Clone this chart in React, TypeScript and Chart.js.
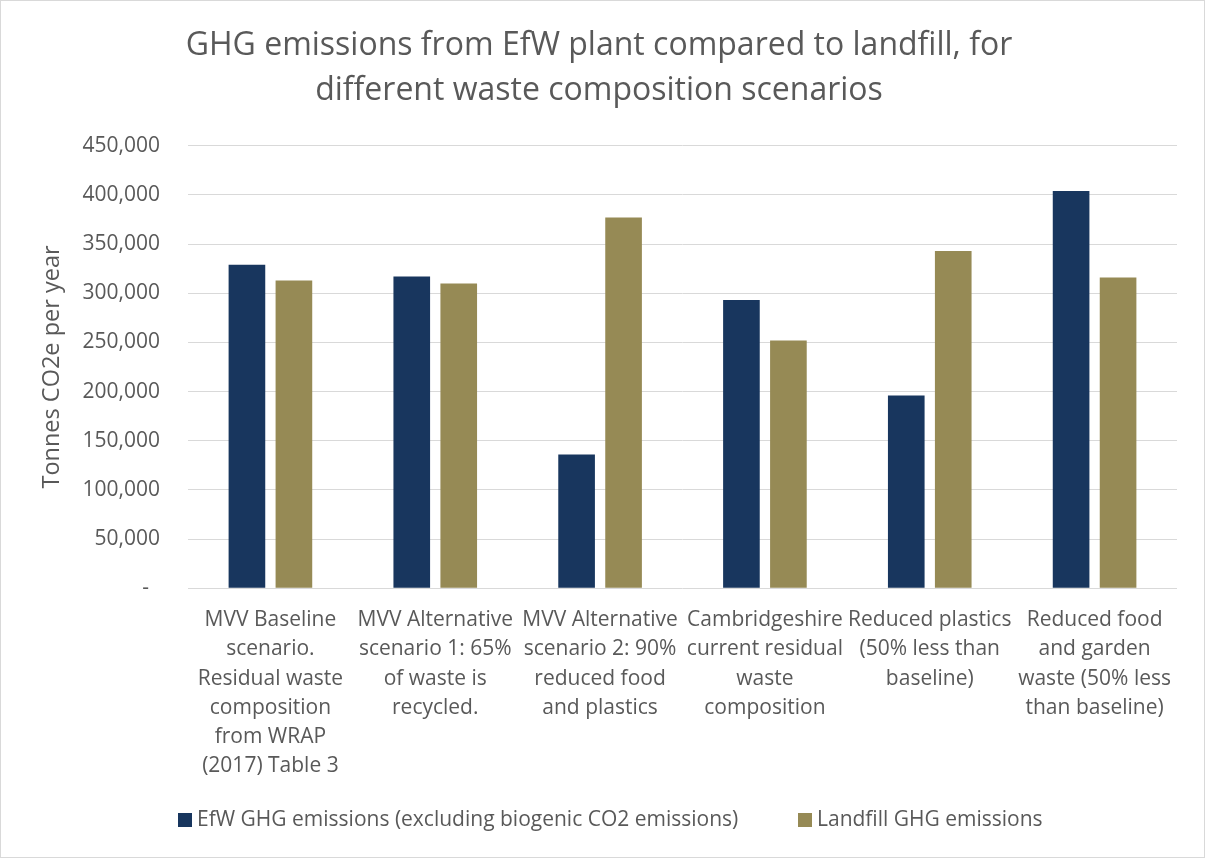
import React, { useEffect, useRef } from "react";
import { Chart, registerables } from "chart.js";

Chart.register(...registerables);

const categories: string[][] = [
  ["MVV Baseline", "scenario.", "Residual waste", "composition", "from WRAP", "(2017) Table 3"],
  ["MVV Alternative", "scenario 1: 65%", "of waste is", "recycled."],
  ["MVV Alternative", "scenario 2: 90%", "reduced food", "and plastics"],
  ["Cambridgeshire", "current residual", "waste", "composition"],
  ["Reduced plastics", "(50% less than", "baseline)"],
  ["Reduced food", "and garden", "waste (50% less", "than baseline)"],
];

const efwValues: number[] = [329000, 317000, 136000, 293000, 196000, 404000];
const landfillValues: number[] = [313000, 310000, 377000, 252000, 343000, 316000];

const seriesNames: string[] = [
  "EfW GHG emissions (excluding biogenic CO2 emissions)",
  "Landfill GHG emissions",
];

const titleLines: string[] = [
  "GHG emissions from EfW plant compared to landfill, for",
  "different waste composition scenarios",
];

const yAxisTitle = "Tonnes CO2e per year";

const NAVY = "#18365E";
const OLIVE = "#968A55";
const TEXT = "#595959";
const GRID = "#D9D9D9";

const legendPlugin = {
  id: "customLegend",
  afterDraw(chart: any) {
    const ctx = chart.ctx;
    const boxX = [177, 797];
    const yc = 819;
    const box = 14;
    ctx.save();
    ctx.font = "21px 'Open Sans'";
    ctx.textBaseline = "middle";
    ctx.textAlign = "left";
    chart.data.datasets.forEach((ds: any, i: number) => {
      ctx.fillStyle = ds.backgroundColor;
      ctx.fillRect(boxX[i], yc - box / 2, box, box);
      ctx.fillStyle = TEXT;
      ctx.fillText(ds.label, boxX[i] + box + 5, yc);
    });
    ctx.restore();
  },
};

export default function App() {
  const ref = useRef<HTMLCanvasElement>(null);

  useEffect(() => {
    if (!ref.current) return;
    const chart = new Chart(ref.current, {
      type: "bar",
      data: {
        labels: categories,
        datasets: [
          {
            label: seriesNames[0],
            data: efwValues,
            backgroundColor: NAVY,
            categoryPercentage: 0.57,
            barPercentage: 0.78,
          },
          {
            label: seriesNames[1],
            data: landfillValues,
            backgroundColor: OLIVE,
            categoryPercentage: 0.57,
            barPercentage: 0.78,
          },
        ],
      },
      options: {
        responsive: false,
        animation: false,
        layout: { padding: { left: 20, right: 27, top: 0, bottom: 0 } },
        plugins: {
          legend: { display: false },
          tooltip: { enabled: false },
          title: {
            display: true,
            text: titleLines,
            color: TEXT,
            font: { family: "Open Sans", size: 32, weight: "normal", lineHeight: "44.5px" },
            padding: { top: 23, bottom: 32.7 },
          },
        },
        scales: {
          x: {
            grid: { display: false, drawTicks: false },
            border: { display: false },
            ticks: {
              color: TEXT,
              font: { family: "Open Sans", size: 21, lineHeight: "29.3px" },
              autoSkip: false,
              maxRotation: 0,
              minRotation: 0,
              padding: 17,
            },
            afterFit(scale: any) {
              scale.height = 268.7;
            },
          },
          y: {
            min: 0,
            max: 450000,
            grid: { color: GRID, lineWidth: 1, drawTicks: false },
            border: { display: false },
            ticks: {
              stepSize: 50000,
              color: TEXT,
              padding: 28,
              font: { family: "Open Sans", size: 21 },
              callback: (v: any) => (Number(v) === 0 ? "-  " : Number(v).toLocaleString("en-US")),
            },
            title: {
              display: true,
              text: yAxisTitle,
              color: TEXT,
              font: { family: "Open Sans", size: 23.5 },
              padding: { top: 17, bottom: 0 },
            },
            afterFit(scale: any) {
              scale.width = 167;
            },
          },
        },
      },
      plugins: [legendPlugin],
    });
    return () => chart.destroy();
  }, []);

  return (
    <div
      style={{
        position: "fixed",
        left: 0,
        top: 0,
        width: 1205,
        height: 858,
        boxSizing: "border-box",
        border: "1px solid #D9D9D9",
        background: "#fff",
      }}
    >
      <canvas ref={ref} width={1203} height={856} style={{ display: "block" }} />
    </div>
  );
}
